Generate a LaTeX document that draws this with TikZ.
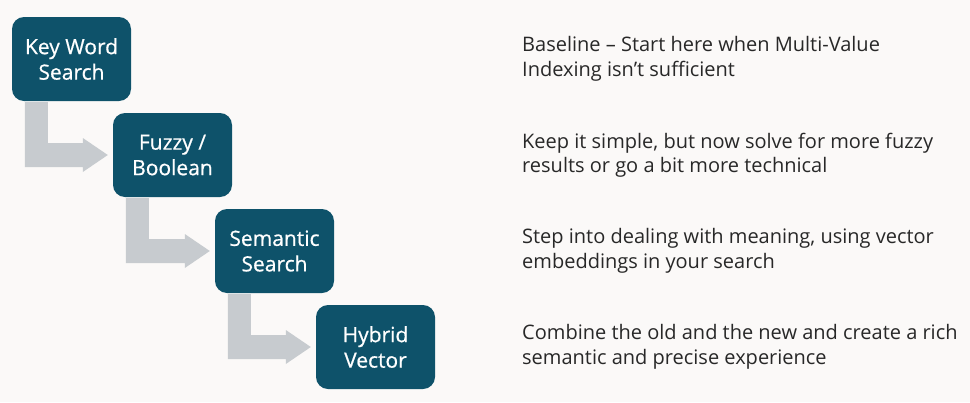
\documentclass[tikz,border=0pt]{standalone}
\usepackage{fontspec}
\setmainfont{Open Sans}
\newfontfamily\boxfont[FakeBold=0.6]{Open Sans}
\usetikzlibrary{calc}
\definecolor{boxteal}{RGB}{14,82,106}
\definecolor{arrowgray}{RGB}{199,203,207}
\definecolor{bgcol}{RGB}{251,249,248}
\definecolor{txtcol}{RGB}{40,40,40}
\tikzset{
  stepbox/.style={rectangle, rounded corners=12pt, fill=boxteal, text=white,
    minimum width=119pt, minimum height=84pt, align=center, inner sep=0pt,
    font=\boxfont\fontsize{21}{25.5}\selectfont},
  desc/.style={anchor=west, align=left, text=txtcol, inner sep=0pt,
    font=\fontsize{20}{24.5}\selectfont},
}
\newcommand{\lconnect}[2]{%
  \fill[arrowgray] let \p1=(#1.south west), \p2=(#2.west) in
   (\x1+13pt,\y1-1pt) -- (\x1+36pt,\y1-1pt) -- (\x1+36pt,\y2+12pt)
   -- (\x2-30pt,\y2+12pt) -- (\x2-30pt,\y2+17pt) -- (\x2-5pt,\y2)
   -- (\x2-30pt,\y2-17pt) -- (\x2-30pt,\y2-12pt) -- (\x1+13pt,\y2-12pt) -- cycle;}
\begin{document}
\begin{tikzpicture}[x=1pt,y=-1pt]
\fill[bgcol] (0,0) rectangle (970,402);
\useasboundingbox (0,0) rectangle (970,402);
\node[stepbox] (b1) at (71.5,59) {Key Word\\Search};
\node[stepbox] (b2) at (172.5,155) {Fuzzy /\\Boolean};
\node[stepbox] (b3) at (274.5,251) {Semantic\\Search};
\node[stepbox] (b4) at (375.5,347) {Hybrid\\Vector};
\lconnect{b1}{b2}
\lconnect{b2}{b3}
\lconnect{b3}{b4}
\node[desc] (t1) at (522,59) {Baseline – Start here when Multi-Value\\Indexing isn’t sufficient};
\node[desc] (t2) at (522,155) {Keep it simple, but now solve for more fuzzy\\results or go a bit more technical};
\node[desc] (t3) at (522,251) {Step into dealing with meaning, using vector\\embeddings in your search};
\node[desc] (t4) at (522,347) {Combine the old and the new and create a rich\\semantic and precise experience};
\end{tikzpicture}
\end{document}
